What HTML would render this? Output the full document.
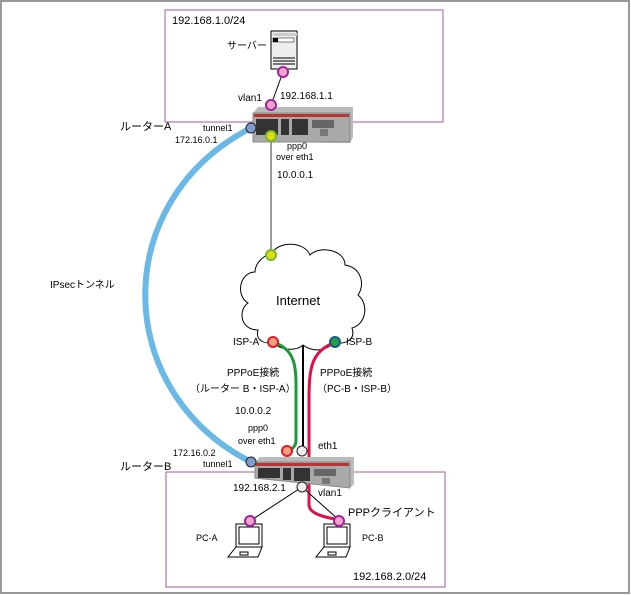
<!DOCTYPE html>
<html><head><meta charset="utf-8"><style>
body{margin:0;background:#fff}
svg{display:block;font-family:"Liberation Sans","Noto Sans CJK JP",sans-serif}
</style></head><body>
<svg width="631" height="595" viewBox="0 0 631 595">
<rect x="1" y="1" width="628" height="592" fill="#fff" stroke="#999" stroke-width="2"/>
<rect x="165" y="10" width="278" height="112" fill="none" stroke="#a05a9c" stroke-width="1"/>
<rect x="166" y="472" width="279" height="115" fill="none" stroke="#a05a9c" stroke-width="1"/>
<!-- blue tunnel -->
<path d="M251,128 C110,200 110,390 251,462" fill="none" stroke="#6ab8e6" stroke-width="6"/>
<!-- lines -->
<line x1="283" y1="72" x2="271" y2="105" stroke="#000"/>
<line x1="271" y1="136" x2="271" y2="253" stroke="#333"/>
<!-- cloud -->
<path d="M272,253 C280,240 305,242 310,255 C320,245 345,250 345,265 C362,268 365,285 358,295 C370,305 365,325 352,328 C356,340 345,345 335,342 C325,352 312,352 303,345 C295,352 280,350 273,342 C265,345 255,340 258,330 C240,330 238,310 248,303 C235,295 240,272 255,272 C255,262 265,255 272,253 Z" fill="#fff" stroke="#000"/>
<line x1="303" y1="345" x2="303" y2="450" stroke="#000" stroke-width="2"/>
<path d="M273,342 C298,350 296,370 296,400 L296,440 C296,448 290,450 287,451" fill="none" stroke="#1a9a3a" stroke-width="3"/>
<path d="M335,342 C312,352 309,365 309,400 L309,505 C309,515 330,518 339,520" fill="none" stroke="#e0104a" stroke-width="3"/>
<line x1="302" y1="487" x2="250" y2="521" stroke="#000"/>
<line x1="302" y1="487" x2="339" y2="520" stroke="#000"/>
<!-- server -->
<rect x="271" y="31" width="26" height="38" fill="#eee" stroke="#000"/>
<rect x="273" y="33" width="24" height="3" fill="#ccc"/>
<rect x="273" y="38" width="21" height="4" fill="#fff" stroke="#000" stroke-width=".5"/>
<rect x="273" y="38" width="5" height="4" fill="#000"/>
<g stroke="#000" stroke-width="1"><line x1="273" y1="58" x2="295" y2="58"/><line x1="273" y1="61" x2="295" y2="61"/><line x1="273" y1="64" x2="295" y2="64"/></g>
<!-- router A -->
<g>
<path d="M253,113 L258,107 L353,107 L353,137 L350,143 L253,142 Z" fill="#bbb"/>
<rect x="253" y="113" width="97" height="29" fill="#a9a9a9" stroke="#888"/>
<rect x="254" y="114" width="95" height="3" fill="#b33"/>
<rect x="256" y="119" width="22" height="16" fill="#333"/>
<rect x="281" y="119" width="8" height="16" fill="#333"/>
<rect x="292" y="119" width="16" height="16" fill="#333"/>
<rect x="312" y="120" width="22" height="8" fill="#666"/>
<rect x="320" y="129" width="8" height="7" fill="#777"/>
</g>
<!-- router B -->
<g>
<path d="M255,462 L260,457 L354,457 L354,484 L350,488 L255,478 Z" fill="#bbb"/>
<path d="M255,462 L350,462 L350,488 L255,478 Z" fill="#a9a9a9" stroke="#888"/>
<rect x="256" y="463" width="93" height="3" fill="#b33"/>
<rect x="258" y="468" width="22" height="10" fill="#333"/>
<rect x="283" y="468" width="8" height="12" fill="#333"/>
<rect x="294" y="468" width="16" height="13" fill="#333"/>
<rect x="314" y="469" width="22" height="7" fill="#666"/>
<rect x="322" y="478" width="8" height="6" fill="#777"/>
</g>
<!-- laptops -->
<g id="lp" fill="#fff" stroke="#000">
<path d="M236,524 L262,524 L262,547 L236,547 Z"/>
<rect x="239" y="527" width="20" height="17"/>
<path d="M236,547 L262,547 L258,557 L228,557 Z"/>
<rect x="240" y="552" width="8" height="3"/>
</g>
<use href="#lp" transform="translate(88,0)"/>
<!-- nodes -->
<g stroke-width="2">
<circle cx="283" cy="72" r="5" fill="#f2a3cb" stroke="#a0229a"/>
<circle cx="271" cy="105" r="5" fill="#f2a3cb" stroke="#a0229a"/>
<circle cx="251" cy="128" r="5" fill="#7f9bd0" stroke="#222" stroke-width="1"/>
<circle cx="271" cy="136" r="5" fill="#e0dc10" stroke="#7ab82a"/>
<circle cx="271" cy="255" r="5" fill="#e0dc10" stroke="#7ab82a"/>
<circle cx="273" cy="342" r="5" fill="#f4a07c" stroke="#e01a2a"/>
<circle cx="335" cy="342" r="5" fill="#22a040" stroke="#1a5a8a"/>
<circle cx="287" cy="451" r="5" fill="#f4a07c" stroke="#e01a2a"/>
<circle cx="302" cy="451" r="5" fill="#eee" stroke="#222" stroke-width="1"/>
<circle cx="251" cy="462" r="5" fill="#7f9bd0" stroke="#222" stroke-width="1"/>
<circle cx="302" cy="487" r="5" fill="#eee" stroke="#222" stroke-width="1"/>
<circle cx="250" cy="521" r="5" fill="#f2a3cb" stroke="#a0229a"/>
<circle cx="339" cy="521" r="5" fill="#f2a3cb" stroke="#a0229a"/>
</g>
<g font-size="11" fill="#000">
<text x="172" y="24">192.168.1.0/24</text>
<text x="227" y="49" font-size="10">サーバー</text>
<text x="238" y="101" font-size="10">vlan1</text>
<text x="280" y="99" font-size="10">192.168.1.1</text>
<text x="120" y="130">ルーターA</text>
<text x="203" y="131" font-size="9">tunnel1</text>
<text x="175" y="143" font-size="9">172.16.0.1</text>
<text x="287" y="149" font-size="9">ppp0</text>
<text x="276" y="160" font-size="9">over eth1</text>
<text x="277" y="178" font-size="10">10.0.0.1</text>
<text x="50" y="288" font-size="10">IPsecトンネル</text>
<text x="276" y="305" font-size="13">Internet</text>
<text x="233" y="345" font-size="10">ISP-A</text>
<text x="346" y="345" font-size="10">ISP-B</text>
<text x="227" y="376" font-size="10">PPPoE接続</text>
<text x="190" y="392" font-size="10">（ルーター B・ISP-A）</text>
<text x="320" y="376" font-size="10">PPPoE接続</text>
<text x="317" y="392" font-size="10">（PC-B・ISP-B）</text>
<text x="235" y="414" font-size="10">10.0.0.2</text>
<text x="248" y="431" font-size="9">ppp0</text>
<text x="238" y="444" font-size="9">over eth1</text>
<text x="318" y="449" font-size="10">eth1</text>
<text x="173" y="456" font-size="9">172.16.0.2</text>
<text x="203" y="467" font-size="9">tunnel1</text>
<text x="120" y="470">ルーターB</text>
<text x="233" y="491" font-size="10">192.168.2.1</text>
<text x="318" y="496" font-size="10">vlan1</text>
<text x="348" y="516" font-size="11">PPPクライアント</text>
<text x="196" y="541" font-size="9">PC-A</text>
<text x="362" y="541" font-size="9">PC-B</text>
<text x="353" y="580" font-size="11">192.168.2.0/24</text>
</g>
</svg>
</body></html>
